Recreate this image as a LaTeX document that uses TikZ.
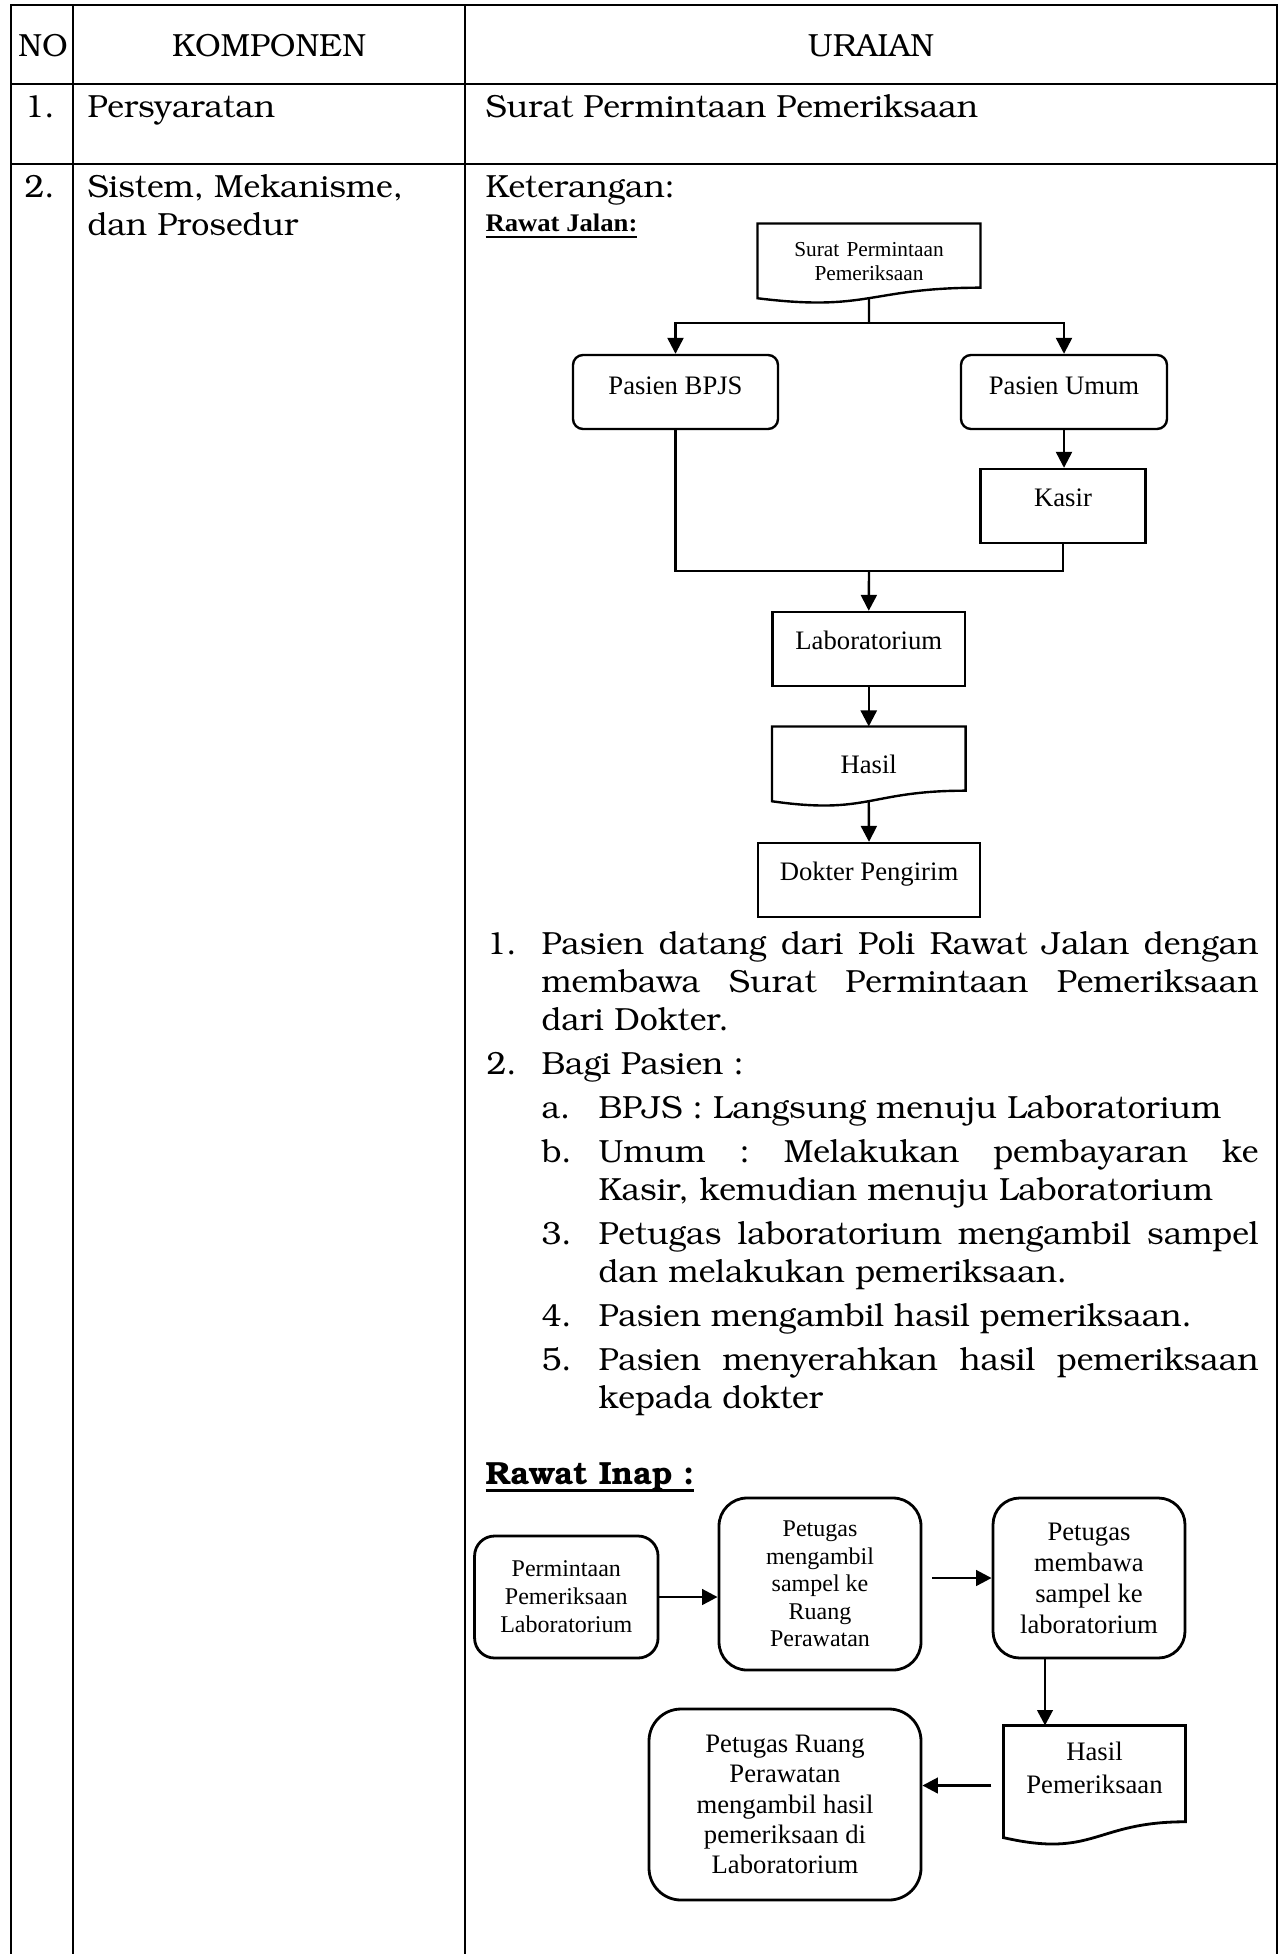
\documentclass[tikz,border=0pt]{standalone}
\usepackage[T1]{fontenc}
\usepackage{fontspec}
\setmainfont{Liberation Serif}
\usepackage{graphicx}
\usetikzlibrary{arrows.meta,calc}
\newdimen\pxu \pxu=0.375pt
\newcommand\bkm{\fontencoding{T1}\fontfamily{pbk}\fontseries{m}\fontshape{n}\fontsize{12}{14.25}\selectfont}
\newcommand\bkb{\fontencoding{T1}\fontfamily{pbk}\fontseries{db}\fontshape{n}\fontsize{12}{14.25}\selectfont}
\newcommand\jl[2]{\makebox[#1\pxu][s]{\frenchspacing\spaceskip=0pt\xspaceskip=0pt #2}}
\newcommand\myul[3]{\setbox0\hbox{#3}\rlap{\rule[-#1]{\wd0}{#2}}\box0}
\newcommand\docshape[1]{%
  \draw[#1-line] (#1.north west) -- (#1.north east) -- ($(#1.north east)!0.802!(#1.south east)$)
    .. controls ($(#1.north)!0.802!(#1.south)$) and ($(#1.north)!1.1075!(#1.south)$) ..
    ($(#1.north west)!0.934!(#1.south west)$) -- cycle;
  \coordinate (#1-w) at ($(#1.north)!0.933!(#1.south)$);}
\begin{document}
\begin{tikzpicture}[x=0.375pt,y=-0.375pt,
  tline/.style={line width=0.75pt},
  fl/.style={line width=0.9pt},
  fi/.style={line width=1.05pt},
  arr/.style={fl,-{Triangle[width=6pt,length=6pt]}},
  arri/.style={fi,-{Triangle[width=5.8pt,length=5.8pt]}},
  bk/.style={inner sep=0pt,font=\bkm},
  jbox/.style={draw,fl,inner sep=0pt,font=\fontsize{10}{11.5}\selectfont,text height=7pt,text depth=7pt,minimum height=27.75pt},
  ibox/.style={draw,fi,inner sep=0pt,align=center,font=\fontsize{10}{11.5}\selectfont},
  docn/.style={inner sep=0pt,align=center},
  surat-line/.style={fl}, hasil-line/.style={fl}, rd-line/.style={fi}]
\useasboundingbox (0,0) rectangle (1278,1954);
% table
\draw[tline] (11,1954) -- (11,5) -- (1276.5,5) -- (1276.5,1954);
\draw[tline] (73,5) -- (73,1954);
\draw[tline] (465,5) -- (465,1954);
\draw[tline] (11,84.5) -- (1276.5,84.5);
\draw[tline] (11,164.5) -- (1276.5,164.5);
\node[bk,anchor=base] (hno) at (43,57) {NO};
\node[bk,anchor=base] (hkomp) at (269,57) {KOMPONEN};
\node[bk,anchor=base] (hur) at (871,57) {URAIAN};
\node[bk,anchor=base west] (n1) at (24,118) {1.};
\node[bk,anchor=base west] (k1) at (87,118) {Persyaratan};
\node[bk,anchor=base west] (u1) at (485,118) {Surat Permintaan Pemeriksaan};
\node[bk,anchor=base west] (n2) at (24,198) {2.};
\node[bk,anchor=base west] (k2a) at (87,198) {Sistem, Mekanisme,};
\node[bk,anchor=base west] (k2b) at (87,236) {dan Prosedur};
\node[bk,anchor=base west] (ket) at (485,198) {Keterangan:};
\node[inner sep=0pt,anchor=base west,font=\fontsize{10}{12}\selectfont\bfseries] (rj) at (485,232)
  {\myul{2.3pt}{0.75pt}{\scalebox{1}[0.95]{Rawat Jalan:}}};
% Rawat Jalan flowchart
\node[docn,minimum width=83.25pt,minimum height=29.625pt,text width=83.25pt,font=\fontsize{8}{8.8}\selectfont,text height=6pt,text depth=11.1pt] (surat) at (869,263.5) {Surat Permintaan\\Pemeriksaan};
\docshape{surat}
\node[jbox,rounded corners=3.75pt,minimum width=76.875pt,text depth=5.5pt] (bpjs) at (675.5,392) {Pasien BPJS};
\node[jbox,rounded corners=3.75pt,minimum width=77.25pt,text depth=5.5pt] (umum) at (1064,392) {Pasien Umum};
\node[jbox,minimum width=61.875pt] (kasir) at (1063,506) {Kasir};
\node[jbox,minimum width=72.19pt] (lab) at (868.75,649) {Laboratorium};
\node[docn,minimum width=72.19pt,minimum height=29.625pt,font=\fontsize{10}{11.5}\selectfont,text height=7pt,text depth=2.1pt] (hasil) at (868.75,766.5) {Hasil};
\docshape{hasil}
\node[jbox,minimum width=83.25pt] (dokter) at (869,880) {Dokter Pengirim};
\coordinate (split) at (869,323);
\coordinate (join) at (869,571);
\draw[fl] (surat-w) -- (split);
\draw[arr] (split) -| (bpjs.north);
\draw[arr] (split) -| (umum.north);
\draw[arr] (umum.south) -- (umum.south |- kasir.north);
\draw[fl] (bpjs.south) |- (join);
\draw[fl] (kasir.south) |- (join);
\draw[arr] (join) -- (lab.north);
\draw[arr] (lab.south) -- (hasil.north);
\draw[arr] (hasil-w) -- (dokter.north);
% list
\node[bk,anchor=base west] (l1n) at (486,954) {1.};
\node[bk,anchor=base west,text width=268.875pt,align=left] (l1) at (541,954)
  {\jl{717}{Pasien datang dari Poli Rawat Jalan dengan}\\\jl{717}{membawa Surat Permintaan Pemeriksaan}\\dari Dokter.};
\node[bk,anchor=base west] (l2n) at (486,1074) {2.};
\node[bk,anchor=base west] (l2) at (541,1074) {Bagi Pasien :};
\node[bk,anchor=base west] (lan) at (541,1118) {a.};
\node[bk,anchor=base west] (la) at (598,1118) {BPJS : Langsung menuju Laboratorium};
\node[bk,anchor=base west] (lbn) at (541,1162) {b.};
\node[bk,anchor=base west,text width=247.5pt,align=left] (lb) at (598,1162)
  {\jl{660}{Umum : Melakukan pembayaran ke}\\Kasir, kemudian menuju Laboratorium};
\node[bk,anchor=base west] (l3n) at (541,1244) {3.};
\node[bk,anchor=base west,text width=247.5pt,align=left] (l3) at (598,1244)
  {\jl{660}{Petugas laboratorium mengambil sampel}\\dan melakukan pemeriksaan.};
\node[bk,anchor=base west] (l4n) at (541,1326) {4.};
\node[bk,anchor=base west] (l4) at (598,1326) {Pasien mengambil hasil pemeriksaan.};
\node[bk,anchor=base west] (l5n) at (541,1370) {5.};
\node[bk,anchor=base west,text width=247.5pt,align=left] (l5) at (598,1370)
  {\jl{660}{Pasien menyerahkan hasil pemeriksaan}\\kepada dokter};
% Rawat Inap
\node[inner sep=0pt,anchor=base west,font=\bkb] (ri) at (485,1484.7) {\myul{2.6pt}{1.1pt}{Rawat Inap :}};
\node[ibox,rounded corners=7.5pt,minimum width=68.8pt,minimum height=45.75pt,font=\fontsize{9}{10.5}\selectfont] (ra) at (566.3,1597) {Permintaan\\Pemeriksaan\\Laboratorium};
\node[ibox,rounded corners=10.5pt,minimum width=75.75pt,minimum height=64.5pt,font=\fontsize{9}{10.3}\selectfont] (rb) at (820,1584) {Petugas\\mengambil\\sampel ke\\Ruang\\Perawatan};
\node[ibox,rounded corners=10pt,minimum width=72pt,minimum height=60pt,font=\fontsize{10}{11.6}\selectfont] (rc) at (1089,1578) {Petugas\\membawa\\sampel ke\\laboratorium};
\node[docn,minimum width=67.875pt,minimum height=44.625pt,text width=67.875pt,font=\fontsize{10}{12.2}\selectfont,text height=7pt,text depth=25.7pt] (rd) at (1094.5,1785.5) {Hasil\\Pemeriksaan};
\docshape{rd}
\node[ibox,rounded corners=12pt,minimum width=102pt,minimum height=71.625pt,font=\fontsize{10}{11.4}\selectfont] (re) at (785,1804.5) {Petugas Ruang\\Perawatan\\mengambil hasil\\pemeriksaan di\\Laboratorium};
\draw[arri] (ra.east) -- (ra.east -| rb.west);
\draw[arri] ($(rb.east |- rc.west)+(10,0)$) -- (rc.west);
\draw[arri] ($(rc.south)+(-44,0)$) -- ($(rc.south |- rd.north)+(-44,0)$);
\draw[arri] ($(rd.west)+(-12,0)$) -- (rd.west -| re.east);
\end{tikzpicture}
\end{document}
